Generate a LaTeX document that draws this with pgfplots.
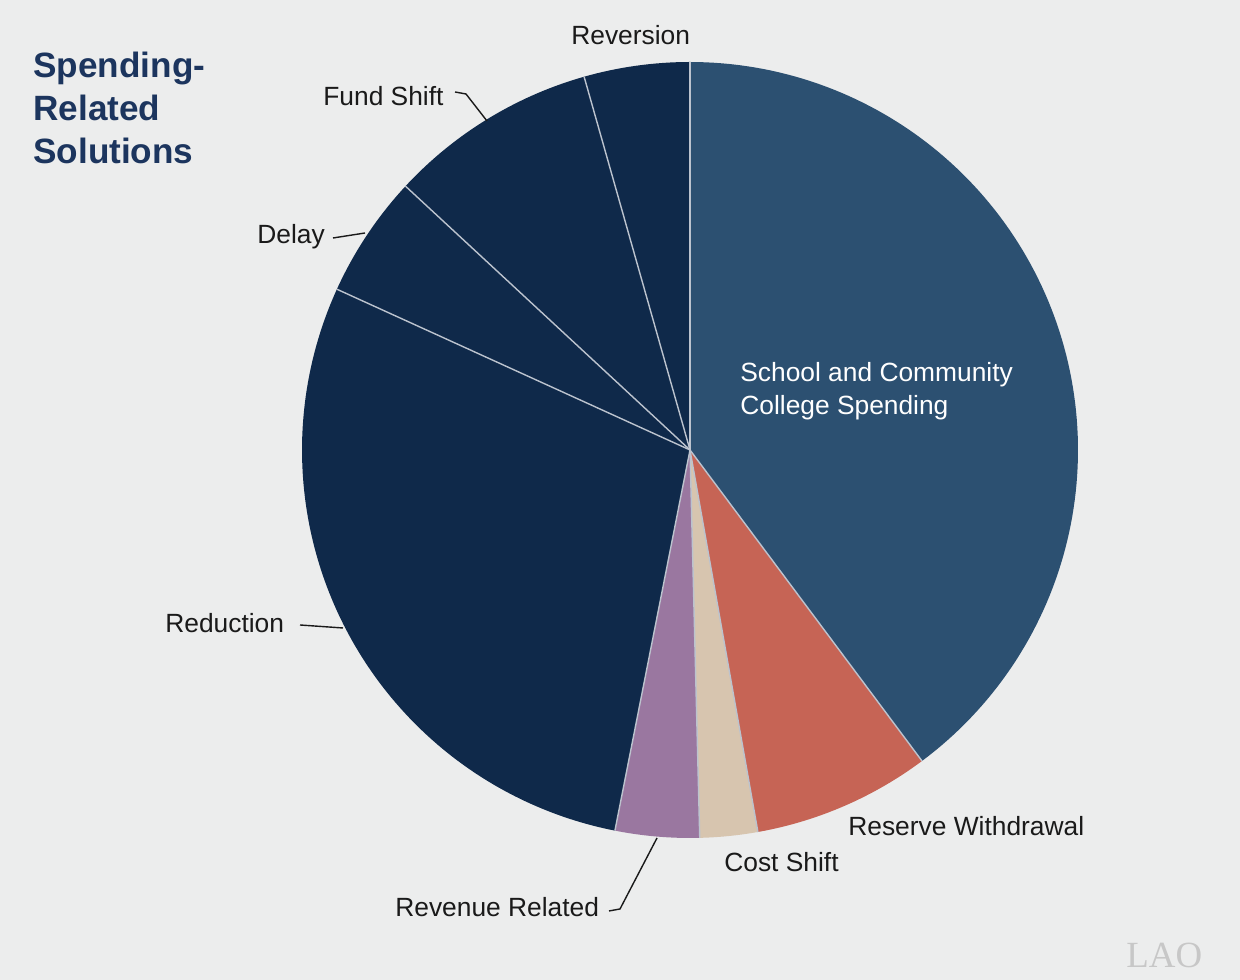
\documentclass[border=0pt]{standalone}
\usepackage{pgfplots}
\pgfplotsset{compat=1.18}
\usepackage{pgfplotstable}
\usepackage{fontspec}
\setmainfont{Liberation Sans}
\newfontfamily\seriffont{Liberation Serif}
\definecolor{bg}{HTML}{ECEDED}
\definecolor{cSchool}{HTML}{2C5071}
\definecolor{cNavy}{HTML}{0F294A}
\definecolor{cReserve}{HTML}{C66455}
\definecolor{cCost}{HTML}{D7C5AF}
\definecolor{cRevenue}{HTML}{9A77A0}
\definecolor{cTitle}{HTML}{1C355E}
\definecolor{sep}{HTML}{BCC3CE}
\definecolor{txt}{HTML}{1A1A1A}

\pgfplotstableread{
label value
School 39.8
Reserve 7.4
Cost 2.4
Revenue 3.5
Reduction 28.7
Delay 5.1
Fund 8.7
Reversion 4.4
}\piedata

\begin{document}
\begin{tikzpicture}
\pgfplotstablegetelem{0}{value}\of\piedata \pgfmathsetmacro\aA{90-3.6*\pgfplotsretval}
\pgfplotstablegetelem{1}{value}\of\piedata \pgfmathsetmacro\aB{\aA-3.6*\pgfplotsretval}
\pgfplotstablegetelem{2}{value}\of\piedata \pgfmathsetmacro\aC{\aB-3.6*\pgfplotsretval}
\pgfplotstablegetelem{3}{value}\of\piedata \pgfmathsetmacro\aD{\aC-3.6*\pgfplotsretval}
\pgfplotstablegetelem{4}{value}\of\piedata \pgfmathsetmacro\aE{\aD-3.6*\pgfplotsretval}
\pgfplotstablegetelem{5}{value}\of\piedata \pgfmathsetmacro\aF{\aE-3.6*\pgfplotsretval}
\pgfplotstablegetelem{6}{value}\of\piedata \pgfmathsetmacro\aG{\aF-3.6*\pgfplotsretval}
\pgfplotstablegetelem{7}{value}\of\piedata \pgfmathsetmacro\aH{\aG-3.6*\pgfplotsretval}
\begin{axis}[width=24.8cm,height=19.6cm,scale only axis,
  xmin=0,xmax=1240,ymin=0,ymax=980,hide axis,clip=false,
  every axis plot/.append style={draw=none,samples=120}]
\fill[bg] (axis cs:0,0) rectangle (axis cs:1240,980);
\addplot[fill=cSchool,domain=\aA:90] ({690+388*cos(x)},{530+388*sin(x)}) -- (axis cs:690,530) -- cycle;
\addplot[fill=cReserve,domain=\aB:\aA] ({690+388*cos(x)},{530+388*sin(x)}) -- (axis cs:690,530) -- cycle;
\addplot[fill=cCost,domain=\aC:\aB] ({690+388*cos(x)},{530+388*sin(x)}) -- (axis cs:690,530) -- cycle;
\addplot[fill=cRevenue,domain=\aD:\aC] ({690+388*cos(x)},{530+388*sin(x)}) -- (axis cs:690,530) -- cycle;
\addplot[fill=cNavy,domain=\aE:\aD] ({690+388*cos(x)},{530+388*sin(x)}) -- (axis cs:690,530) -- cycle;
\addplot[fill=cNavy,domain=\aF:\aE] ({690+388*cos(x)},{530+388*sin(x)}) -- (axis cs:690,530) -- cycle;
\addplot[fill=cNavy,domain=\aG:\aF] ({690+388*cos(x)},{530+388*sin(x)}) -- (axis cs:690,530) -- cycle;
\addplot[fill=cNavy,domain=\aH:\aG] ({690+388*cos(x)},{530+388*sin(x)}) -- (axis cs:690,530) -- cycle;

% slice separators
\foreach \ang in {90,\aA,\aB,\aC,\aD,\aE,\aF,\aG}{
  \edef\tmp{\noexpand\draw[sep,line width=0.8pt] (axis cs:690,530) -- (axis cs:{690+388*cos(\ang)},{530+388*sin(\ang)});}\tmp
}

% title
\node[anchor=base west,inner sep=0,text=cTitle,font=\fontsize{20}{24}\selectfont\bfseries] at (axis cs:33,902) {Spending-};
\node[anchor=base west,inner sep=0,text=cTitle,font=\fontsize{20}{24}\selectfont\bfseries] at (axis cs:33,859) {Related};
\node[anchor=base west,inner sep=0,text=cTitle,font=\fontsize{20}{24}\selectfont\bfseries] at (axis cs:33,816) {Solutions};

% labels
\tikzset{lab/.style={anchor=base west,inner sep=0,text=txt,font=\fontsize{15}{18}\selectfont}}
\node[lab] at (axis cs:571,935) {Reversion};
\node[lab] at (axis cs:323,874) {Fund Shift};
\node[lab] at (axis cs:257,736) {Delay};
\node[lab] at (axis cs:165,347) {Reduction};
\node[lab] at (axis cs:395,63) {Revenue Related};
\node[lab] at (axis cs:724,108) {Cost Shift};
\node[lab] at (axis cs:848,144) {Reserve Withdrawal};
\node[lab,text=white] at (axis cs:740,598) {School and Community};
\node[lab,text=white] at (axis cs:740,565) {College Spending};

% leader lines
\draw[txt,line width=0.8pt] (axis cs:455,888) -- (axis cs:466,886) -- (axis cs:487,859);
\draw[txt,line width=0.8pt] (axis cs:333,742) -- (axis cs:365,747);
\draw[txt,line width=0.8pt] (axis cs:300,355) -- (axis cs:343,352);
\draw[txt,line width=0.8pt] (axis cs:609,69) -- (axis cs:620,71) -- (axis cs:657,142);

% logo
\node[anchor=base west,inner sep=0,text=black!22,font=\seriffont\fontsize{21}{24}\selectfont] at (axis cs:1126,12) {LAO};
\end{axis}
\end{tikzpicture}
\end{document}
